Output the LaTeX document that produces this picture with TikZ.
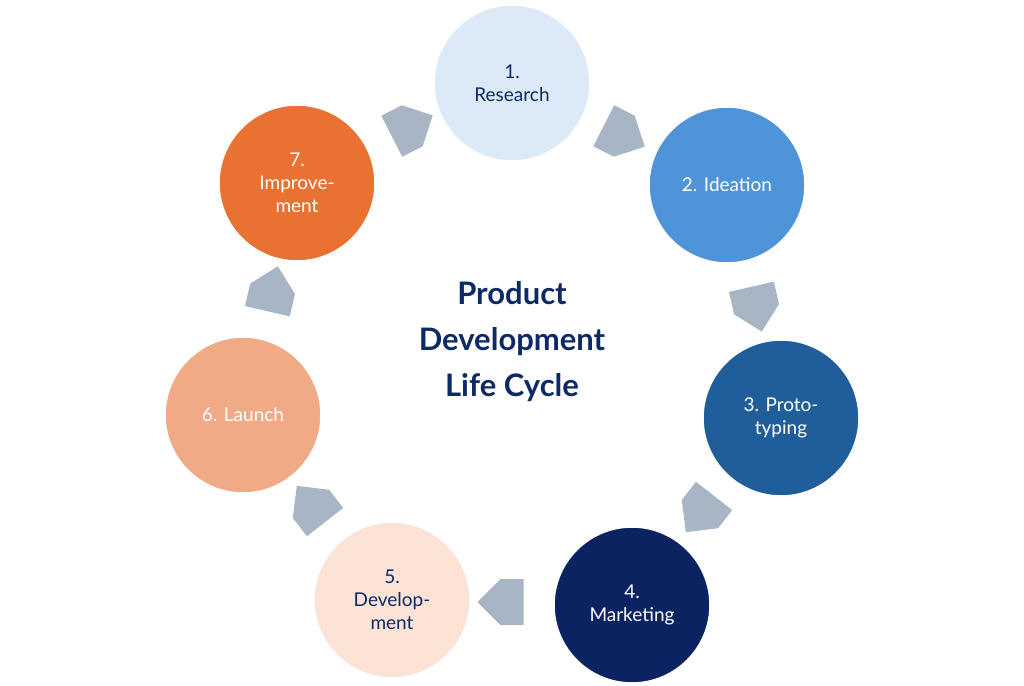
\documentclass[tikz,border=0pt]{standalone}
\usepackage{fontspec}
\setmainfont{Lato}
\usetikzlibrary{shapes.arrows}
\definecolor{navy}{HTML}{0E2A66}
\definecolor{arr}{HTML}{A7B5C4}
\definecolor{c1}{HTML}{DCE9F6}
\definecolor{c2}{HTML}{4F94D8}
\definecolor{c3}{HTML}{205E9A}
\definecolor{c4}{HTML}{0B2360}
\definecolor{c5}{HTML}{FBE3D6}
\definecolor{c6}{HTML}{F0AA86}
\definecolor{c7}{HTML}{E97132}
\begin{document}
\begin{tikzpicture}[x=1pt,y=-1pt,
  st/.style={circle,minimum size=156pt,draw=white,line width=1.5pt,align=center,font=\fontsize{19}{23}\selectfont,text=white},
  ar/.style={single arrow,fill=arr,minimum height=46pt,minimum width=46pt,single arrow head extend=0pt,inner sep=6pt}]
\useasboundingbox (0,0) rectangle (1024,685);
\node[st,fill=c1,text=navy] (n1) at (512,83) {1.\\Research};
\node[st,fill=c2] (n2) at (727,185) {2. Ideation};
\node[st,fill=c3] (n3) at (781,418) {3. Proto-\\typing};
\node[st,fill=c4] (n4) at (632,605) {4.\\Marketing};
\node[st,fill=c5,text=navy] (n5) at (392,600) {5.\\Develop-\\ment};
\node[st,fill=c6] (n6) at (243,415) {6. Launch};
\node[st,fill=c7] (n7) at (297,183) {7.\\Improve-\\ment};
\node[ar,rotate=-27] (a1) at (614,131) {};
\node[ar,rotate=-77] (a2) at (754,298) {};
\node[ar,rotate=-128] (a3) at (707,505) {};
\node[ar,rotate=180] (a4) at (512,602) {};
\node[ar,rotate=128] (a5) at (318,513) {};
\node[ar,rotate=77] (a6) at (270,300) {};
\node[ar,rotate=27] (a7) at (402,131) {};
\node[font=\bfseries\fontsize{31}{46}\selectfont,text=navy,align=center] (t) at (512,342) {Product\\Development\\Life Cycle};
\end{tikzpicture}
\end{document}
